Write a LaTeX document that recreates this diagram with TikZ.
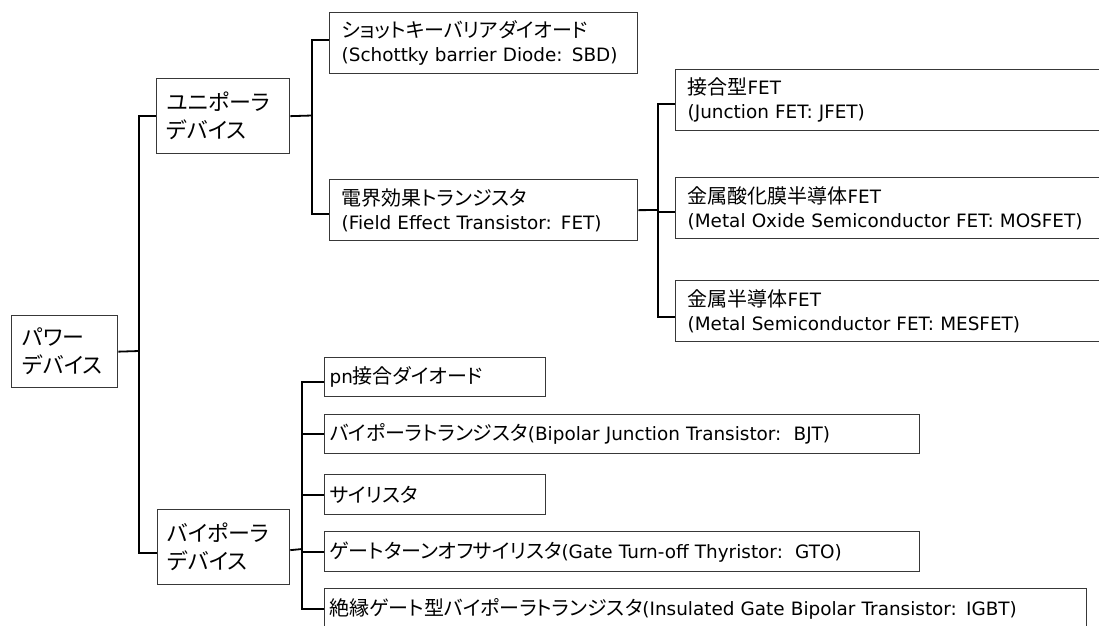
\documentclass[tikz,border=0pt]{standalone}
\usepackage{fontspec}
\setmainfont{DejaVu Sans}
\newfontfamily\jp{Noto Sans CJK JP}[Scale=1.087,RawFeature=+palt]
\newcommand\mybox[8]{% style, name, x, y, w, h, xsep, text
  \pgfmathsetmacro\tw{#5-2*#7}%
  \node[#1, inner xsep=#7pt, text width=\tw pt, minimum height=#6pt] (#2) at (#3,#4) {#8};}
\tikzset{
  box/.style={draw=black!78, line width=1.3pt, rectangle, anchor=north west,
    inner ysep=0pt, align=left},
  big/.style={box, font=\fontsize{20.2}{28}\selectfont},
  two/.style={box, font=\fontsize{18.4}{24}\selectfont},
  one/.style={box, font=\fontsize{18.4}{24}\selectfont},
  conn/.style={draw=black, line width=1.8pt}
}
\begin{document}
\begin{tikzpicture}[x=1pt,y=-1pt]
\useasboundingbox (0,0) rectangle (1099,625);
\clip (0,0) rectangle (1099,625);
\fill[white] (0,0) rectangle (1099,625);
% level 0/1
\mybox{big}{pw}{11}{315}{106}{72}{11}{\jp パワー\\\jp デバイス}
\mybox{big}{uni}{156}{78}{133}{75}{10}{\jp ユニポーラ\\\jp デバイス}
\mybox{big}{bi}{157}{509}{132}{75}{10}{\jp バイポーラ\\\jp デバイス}
% unipolar children
\mybox{two}{sbd}{329}{12}{308}{61}{12}{{\jp ショットキーバリアダイオード}\\(Schottky barrier Diode: SBD)}
\mybox{two}{fet}{329}{179}{308}{61}{12}{{\jp 電界効果トランジスタ}\\(Field Effect Transistor: FET)}
% FET children
\mybox{two}{jfet}{675}{69}{440}{61}{12}{{\jp 接合型}FET\\(Junction FET: JFET)}
\mybox{two}{mos}{675}{177}{440}{61}{12}{{\jp 金属酸化膜半導体}FET\\(Metal Oxide Semiconductor FET: MOSFET)}
\mybox{two}{mes}{675}{280}{440}{61}{12}{{\jp 金属半導体}FET\\(Metal Semiconductor FET: MESFET)}
% bipolar children
\mybox{one}{pn}{324}{357}{221}{39}{5}{pn{\jp 接合ダイオード}}
\mybox{one}{bjt}{324}{414}{595}{39}{5}{{\jp バイポーラトランジスタ}(Bipolar Junction Transistor:\ \ BJT)}
\mybox{one}{thy}{324}{474}{221}{40}{5}{{\jp サイリスタ}}
\mybox{one}{gto}{324}{531}{595}{40}{5}{{\jp ゲートターンオフサイリスタ}(Gate Turn-off Thyristor:\ \ GTO)}
\mybox{one}{igbt}{324}{588}{762}{40}{5}{{\jp 絶縁ゲート型バイポーラトランジスタ}(Insulated Gate Bipolar Transistor: IGBT)}
% junctions
\coordinate (j1) at (139,351);
\coordinate (j2) at (312,115.5);
\coordinate (j3) at (658,210);
\coordinate (j4) at (302,549);
% connectors
\draw[conn] (pw.east) -- (j1);
\draw[conn] (uni.west) -| (j1);
\draw[conn] ([yshift=-6pt]bi.west) -| (j1);
\draw[conn] (uni.east) -- (j2);
\draw[conn] ([yshift=3pt]sbd.west) -| (j2);
\draw[conn] ([yshift=-4pt]fet.west) -| (j2);
\draw[conn] (fet.east) -- (j3);
\draw[conn] ([yshift=-4pt]jfet.west) -| (j3);
\draw[conn] ([yshift=-4pt]mos.west) -| (j3);
\draw[conn] ([yshift=-6pt]mes.west) -| (j3);
\draw[conn] ([yshift=-3pt]bi.east) -- (j4);
\draw[conn] ([yshift=-5pt]pn.west) -| (j4);
\draw[conn] (bjt.west) -| (j4);
\draw[conn] (thy.west) -| (j4);
\draw[conn] (gto.west) -| (j4);
\draw[conn] (igbt.west) -| (j4);
\end{tikzpicture}
\end{document}
